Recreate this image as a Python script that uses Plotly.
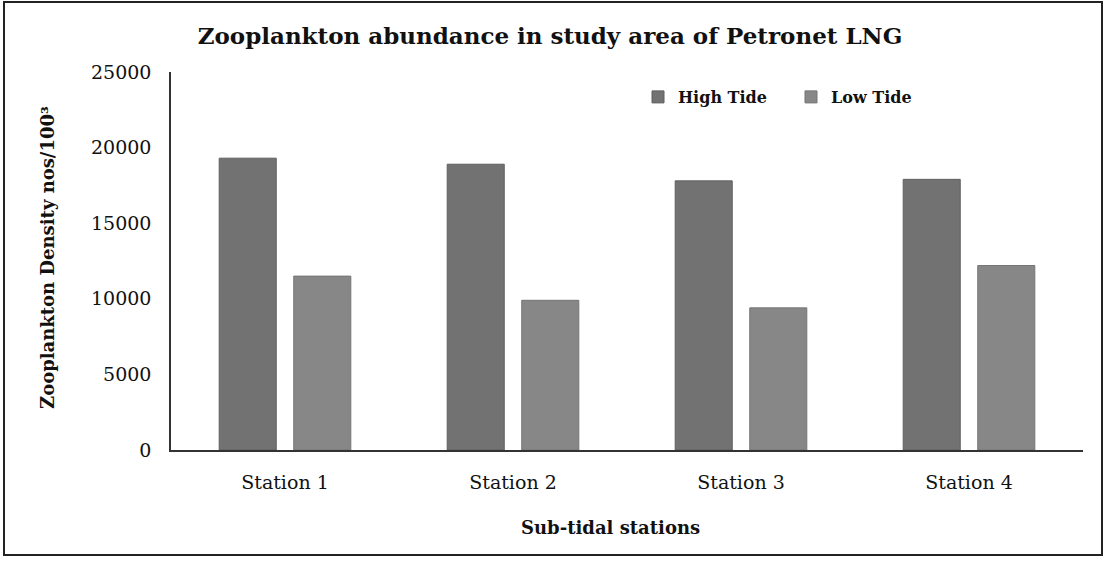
import plotly.graph_objects as go

stations = ["Station 1", "Station 2", "Station 3", "Station 4"]
high_tide = [19300, 18900, 17800, 17900]
low_tide = [11500, 9900, 9400, 12200]
y_ticks = [0, 5000, 10000, 15000, 20000, 25000]

FONT = "DejaVu Serif"

fig = go.Figure()
fig.add_trace(go.Bar(name="High Tide", x=stations, y=high_tide,
                     marker=dict(color="#727272", line=dict(color="#5f5f5f", width=1))))
fig.add_trace(go.Bar(name="Low Tide", x=stations, y=low_tide,
                     marker=dict(color="#878787", line=dict(color="#747474", width=1))))

L, R, T, B = 171, 22, 72, 112
W, H = 1105, 562
pw, ph = W - L - R, H - T - B

def px(x):
    return (x - L) / pw

def py(y):
    return (H - B - y) / ph

fig.update_layout(
    width=W, height=H,
    margin=dict(l=L, r=R, t=T, b=B),
    paper_bgcolor="white", plot_bgcolor="white",
    barmode="group", bargap=0.346, bargroupgap=0.235,
    font=dict(family=FONT, color="#111111", size=18),
    showlegend=True,
    legend=dict(orientation="h", x=px(638), y=py(97), xanchor="left", yanchor="middle",
                font=dict(family=FONT, size=16, weight="bold"),
                itemwidth=30, entrywidth=108, bgcolor="rgba(0,0,0,0)"),
    title=dict(text="<b>Zooplankton abundance in study area of Petronet LNG</b>",
               x=550 / W, xanchor="center", y=1 - 36 / H, yanchor="middle",
               font=dict(family=FONT, size=23, color="#111111")),
    xaxis=dict(showline=True, linecolor="#333333", linewidth=1.5, ticks="",
               tickfont=dict(size=19), showgrid=False, ticklabelstandoff=14),
    yaxis=dict(range=[0, 25000], tickvals=y_ticks, tickformat="d", showline=True,
               linecolor="#333333", linewidth=1.5, ticks="", showgrid=False,
               tickfont=dict(size=19), ticklabelstandoff=14, zeroline=False),
    annotations=[
        dict(text="<b>Sub-tidal stations</b>", x=px(610), y=py(527), xref="paper", yref="paper",
             showarrow=False, xanchor="center", yanchor="middle",
             font=dict(family=FONT, size=18, color="#111111")),
        dict(text="<b>Zooplankton Density nos/100³</b>", x=px(47), y=py(258), xref="paper",
             yref="paper", showarrow=False, textangle=-90, xanchor="center", yanchor="middle",
             font=dict(family=FONT, size=18, color="#111111")),
    ],
    shapes=[dict(type="rect", xref="paper", yref="paper",
                 x0=px(4), x1=px(1102), y0=py(555), y1=py(2),
                 line=dict(color="#222222", width=2))],
)

fig.write_html("out.html", config={"displayModeBar": False},
               post_script="document.body.style.margin='0';document.body.style.overflow='hidden';")
